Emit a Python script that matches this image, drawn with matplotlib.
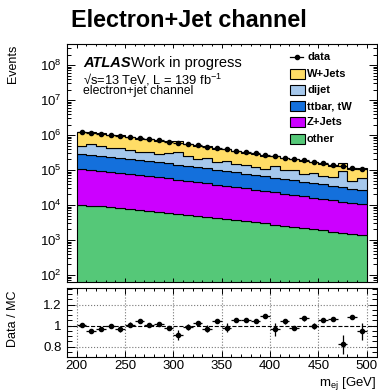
import numpy as np
import matplotlib
matplotlib.use("Agg")
import matplotlib.pyplot as plt
from matplotlib.ticker import MultipleLocator, LogLocator, NullFormatter, FixedLocator
from matplotlib.patches import Rectangle
from matplotlib.lines import Line2D

plt.rcParams["font.family"] = ["Liberation Sans", "DejaVu Sans"]
plt.rcParams["mathtext.fontset"] = "custom"
plt.rcParams["mathtext.rm"] = "Liberation Sans"
plt.rcParams["mathtext.it"] = "Liberation Sans:italic"
plt.rcParams["mathtext.bf"] = "Liberation Sans:bold"

# m_ej binning [GeV]
edges = np.arange(200, 501, 10)

# background expectations per bin (stacked bottom -> top)
other = [10000, 9590, 9120, 8650, 8170, 7690, 7240, 6790, 6370, 5970,
         5580, 5220, 4880, 4550, 4250, 3950, 3680, 3430, 3180, 2960,
         2750, 2550, 2370, 2190, 2030, 1880, 1740, 1610, 1490, 1380]
zjets = [94600, 90200, 84900, 79600, 74500, 69300, 64400, 59800, 55500, 51300,
         47400, 43800, 40400, 37200, 34300, 31500, 28900, 26500, 24400, 22300,
         20500, 18700, 17100, 15700, 14300, 13100, 11900, 10900, 9910, 9040]
ttbar = [183000, 174000, 164000, 153000, 143000, 133000, 124000, 114000, 106000, 97700,
         90200, 83000, 76200, 70100, 64400, 59000, 54100, 49500, 45300, 41400,
         37800, 34600, 31600, 28800, 26200, 23900, 21700, 19800, 18000, 16300]
dijet = [212800, 276600, 238000, 192000, 210600, 161200, 127300, 141400, 125200, 143300,
         180300, 120400, 91700, 111200, 71600, 91400, 58600, 55800, 53200, 38600,
         65600, 43400, 52300, 32000, 40900, 30200, 26700, 60500, 20200, 33200]
wjets = [719000, 681000, 638000, 594000, 551000, 509000, 470000, 434000, 398000, 366000,
         335000, 306000, 280000, 256000, 233000, 213000, 194000, 176000, 160000, 145000,
         132000, 119000, 108000, 98000, 88700, 80200, 72400, 65500, 59200, 53300]

# observed events
data = [1231600, 1169800, 1100000, 1027300, 957700, 889000, 824600, 763600, 704900, 651000,
        599200, 550000, 505500, 464700, 425900, 390900, 358000, 326800, 299000, 272800,
        249600, 227000, 207200, 189100, 172100, 156800, 142500, 129800, 118000, 107000]

# total uncertainty on Data/MC
ratio_err = [0.015, 0.02, 0.02, 0.015, 0.03, 0.02, 0.015, 0.015, 0.015, 0.02,
             0.045, 0.03, 0.015, 0.035, 0.015, 0.045, 0.01, 0.01, 0.015, 0.01,
             0.06, 0.02, 0.02, 0.025, 0.03, 0.02, 0.015, 0.09, 0.01, 0.08]

samples = [("other", other, "#55c878"),
           ("Z+Jets", zjets, "#cc00ff"),
           ("ttbar, tW", ttbar, "#1470dc"),
           ("dijet", dijet, "#a6c8ec"),
           ("W+Jets", wjets, "#ffdd66")]

centers = 0.5 * (edges[:-1] + edges[1:])
halfw = 0.5 * np.diff(edges)
data = np.asarray(data, float)

W, H = 378, 390
fig = plt.figure(figsize=(W / 100, H / 100), dpi=100)

def frac(l, t, r, b):
    return [l / W, 1 - b / H, (r - l) / W, (b - t) / H]

ax = fig.add_axes(frac(67, 44, 376.5, 282))
rax = fig.add_axes(frac(67, 288, 376.5, 357))

# stacked histogram
bottom = np.full(len(centers), 1.0)
for name, vals, col in samples:
    top = bottom + np.asarray(vals, float)
    ax.stairs(top, edges, baseline=bottom, fill=True, facecolor=col,
              edgecolor="black", linewidth=0.8)
    bottom = top
mc_total = bottom - 1.0

ax.errorbar(centers, data, xerr=halfw, yerr=np.sqrt(data), fmt="o", color="black",
            ms=3.0, elinewidth=0.9, capsize=0)

ax.set_yscale("log")
ax.set_xlim(190, 510)
ax.set_ylim(63, 4e8)
ax.xaxis.set_major_locator(MultipleLocator(50))
ax.xaxis.set_minor_locator(MultipleLocator(10))
ax.yaxis.set_major_locator(LogLocator(base=10, numticks=20))
ax.yaxis.set_minor_locator(LogLocator(base=10, subs=np.arange(2, 10), numticks=20))
ax.yaxis.set_minor_formatter(NullFormatter())
ax.tick_params(which="both", direction="in", top=True, right=True,
               labelbottom=False, labelsize=9.5, width=0.7, pad=4)
ax.tick_params(axis="y", which="major", length=5.8)
ax.tick_params(axis="y", which="minor", length=3.2)
ax.tick_params(axis="x", which="major", length=3.2)
ax.tick_params(axis="x", which="minor", length=1.7)
for s in ax.spines.values():
    s.set_linewidth(0.8)

# ATLAS label
ax.text(0.052, 0.905, "ATLAS", transform=ax.transAxes, fontsize=10.5,
        fontweight="bold", fontstyle="italic", va="baseline")
ax.text(0.206, 0.905, "Work in progress", transform=ax.transAxes, fontsize=10.5,
        va="baseline")
ax.text(0.052, 0.830, "\u221as=13 TeV, L = 139 fb$^{\\mathregular{-1}}$",
        transform=ax.transAxes, fontsize=9.3, va="baseline")
ax.text(0.052, 0.788, "electron+jet channel", transform=ax.transAxes,
        fontsize=8.8, va="baseline")

# legend
rows_y = [0.9433, 0.8752, 0.8067, 0.7387, 0.6702, 0.6021]
bx0, bx1 = 0.7205, 0.769
bh = 0.042
ax.add_line(Line2D([bx0, bx1 - 0.006], [rows_y[0]] * 2, transform=ax.transAxes,
                   color="black", lw=0.9))
ax.plot([(bx0 + bx1 - 0.006) / 2], [rows_y[0]], "o", color="black", ms=3.0,
        transform=ax.transAxes)
ax.text(0.7755, rows_y[0], "data", transform=ax.transAxes, fontsize=8,
        fontweight="bold", va="center")
for (name, vals, col), yy in zip(samples[::-1], rows_y[1:]):
    ax.add_patch(Rectangle((bx0, yy - bh / 2), bx1 - bx0, bh, transform=ax.transAxes,
                           facecolor=col, edgecolor="black", lw=0.8))
    ax.text(0.7755, yy, name, transform=ax.transAxes, fontsize=8,
            fontweight="bold", va="center")

# ratio panel
ratio = data / mc_total
rax.set_xlim(190, 510)
rax.set_ylim(0.7, 1.36)
for gx in range(200, 501, 50):
    rax.axvline(gx, color="#777777", ls=":", lw=0.8, zorder=0)
for gy in (0.8, 1.2):
    rax.axhline(gy, color="#777777", ls=":", lw=0.8, zorder=0)
rax.axhline(1.0, color="black", ls="--", lw=0.8, zorder=1)
rax.errorbar(centers, ratio, xerr=halfw, yerr=ratio_err, fmt="o", color="black",
             ms=3.0, elinewidth=0.9, capsize=0, zorder=3)
rax.xaxis.set_major_locator(MultipleLocator(50))
rax.xaxis.set_minor_locator(MultipleLocator(10))
rax.yaxis.set_major_locator(FixedLocator([0.8, 1.0, 1.2]))
rax.yaxis.set_minor_locator(MultipleLocator(0.05))
rax.set_yticklabels(["0.8", "1", "1.2"])
rax.tick_params(which="both", direction="in", top=True, right=True,
                labelsize=9.5, width=0.7)
rax.tick_params(axis="y", which="major", length=5.8, pad=4)
rax.tick_params(axis="y", which="minor", length=3.5)
rax.tick_params(axis="x", which="major", length=4, pad=2.5)
rax.tick_params(axis="x", which="minor", length=2)
for s in rax.spines.values():
    s.set_linewidth(0.8)

# titles and axis labels
fig.text(0.5, 1 - 26.7 / H, "Electron+Jet channel", ha="center", va="baseline",
         fontsize=16.8, fontweight="bold")
fig.text(13 / W, 1 - 45 / H, "Events", rotation=90, ha="center", va="top", fontsize=9)
fig.text(13 / W, 1 - 318.5 / H, "Data / MC", rotation=90, ha="center", va="center",
         fontsize=9)
fig.text(376 / W, 1 - 385.5 / H, "m$_{\\mathregular{ej}}$ [GeV]", ha="right",
         va="baseline", fontsize=9.5)

fig.savefig("out.png", dpi=100)
